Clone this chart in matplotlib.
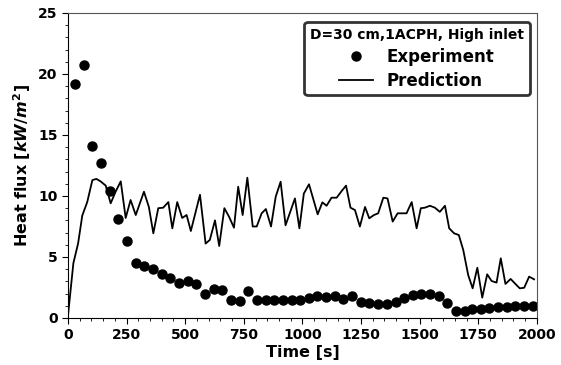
import matplotlib
matplotlib.use("Agg")
import matplotlib.pyplot as plt
from matplotlib.ticker import MultipleLocator

plt.rcParams['font.family'] = ['DejaVu Sans']
plt.rcParams['font.weight'] = 'bold'
plt.rcParams['mathtext.fontset'] = 'custom'
plt.rcParams['mathtext.it'] = 'DejaVu Sans:italic:bold'
plt.rcParams['mathtext.rm'] = 'DejaVu Sans:bold'

# Experiment data
exp_time = [30, 67, 104, 141, 178, 215, 252, 289, 326, 363, 400, 436, 473, 510,
            547, 584, 621, 658, 695, 732, 769, 806, 843, 880, 917, 954, 990, 1027,
            1064, 1101, 1138, 1175, 1212, 1249, 1286, 1323, 1360, 1397, 1434, 1470,
            1507, 1544, 1581, 1618, 1655, 1692, 1723, 1760, 1797, 1834, 1871, 1907,
            1945, 1982]
exp_flux = [19.2, 20.7, 14.1, 12.7, 10.4, 8.1, 6.3, 4.5, 4.3, 4.0, 3.6, 3.25, 2.85, 3.0,
            2.8, 2.0, 2.35, 2.3, 1.5, 1.4, 2.2, 1.5, 1.45, 1.45, 1.5, 1.45, 1.45, 1.67,
            1.8, 1.75, 1.8, 1.53, 1.8, 1.34, 1.26, 1.12, 1.12, 1.28, 1.61, 1.88,
            1.97, 1.97, 1.83, 1.2, 0.57, 0.6, 0.71, 0.74, 0.79, 0.87, 0.93, 0.98,
            0.98, 1.01]

# Prediction data
pred_time = [0, 23, 43, 61, 82, 104, 121, 139, 161, 182, 203, 225, 246, 267, 289,
             324, 345, 364, 385, 406, 428, 445, 466, 487, 506, 524, 563, 587, 605,
             627, 645, 667, 687, 708, 726, 745, 765, 788, 805, 826, 844, 866, 886,
             907, 928, 968, 987, 1006, 1028, 1065, 1085, 1103, 1124, 1146, 1167,
             1186, 1205, 1224, 1245, 1267, 1285, 1305, 1323, 1345, 1363, 1385, 1406,
             1426, 1444, 1466, 1487, 1505, 1522, 1544, 1565, 1586, 1608, 1626, 1647,
             1667, 1686, 1707, 1726, 1746, 1767, 1788, 1807, 1828, 1846, 1866, 1888,
             1906, 1927, 1946, 1967, 1988]
pred_flux = [0.2, 4.5, 6.1, 8.4, 9.5, 11.3, 11.4, 11.2, 10.85, 9.4, 10.35, 11.2, 8.2, 9.67, 8.44,
             10.35, 9.1, 6.94, 9.0, 9.04, 9.5, 7.35, 9.5, 8.2, 8.44, 7.13, 10.1, 6.1, 6.4,
             8.0, 5.9, 9.0, 8.3, 7.4, 10.76, 8.44, 11.5, 7.5, 7.5, 8.58, 8.93, 7.5, 9.94,
             11.17, 7.6, 9.8, 7.35, 10.2, 10.96, 8.5, 9.48, 9.2, 9.86, 9.86, 10.4,
             10.85, 9.04, 8.85, 7.5, 9.1, 8.17, 8.44, 8.58, 9.86, 9.8, 7.9, 8.58,
             8.58, 8.58, 9.5, 7.35, 9.0, 9.04, 9.2, 9.04, 8.7, 9.2, 7.35, 6.94,
             6.8, 5.57, 3.52, 2.43, 4.12, 1.67, 3.58, 3.03, 2.9, 4.89, 2.79, 3.2,
             2.84, 2.43, 2.48, 3.39, 3.17]

fig = plt.figure(figsize=(5.61, 3.65), dpi=100)
ax = fig.add_axes([0.1212, 0.1288, 0.8358, 0.8356])

ax.plot(exp_time, exp_flux, 'o', color='black', markersize=6.5, label='Experiment')
ax.plot(pred_time, pred_flux, '-', color='black', linewidth=1.3, label='Prediction')

ax.set_xlim(0, 2000)
ax.set_ylim(0, 25)
ax.xaxis.set_major_locator(MultipleLocator(250))
ax.xaxis.set_minor_locator(MultipleLocator(50))
ax.yaxis.set_major_locator(MultipleLocator(5))
ax.yaxis.set_minor_locator(MultipleLocator(1))
ax.tick_params(axis='both', which='major', labelsize=10, length=4, direction='out')
ax.tick_params(axis='both', which='minor', length=2, direction='out')
for lab in ax.get_xticklabels() + ax.get_yticklabels():
    lab.set_fontweight('bold')

for s in ['top', 'right']:
    ax.spines[s].set_color('#555555')

ax.set_xlabel('Time [s]', fontsize=11.5, fontweight='bold', labelpad=2)
ax.set_ylabel(r'Heat flux [$kW/m^2$]', fontsize=11.5, fontweight='bold', labelpad=4)

leg = ax.legend(loc='upper right', title='D=30 cm,1ACPH, High inlet',
                title_fontproperties={'weight': 'bold', 'size': 10},
                prop={'weight': 'bold', 'size': 12}, fancybox=True, framealpha=1,
                borderpad=0.35, handlelength=2.0, handletextpad=0.85,
                labelspacing=0.35, borderaxespad=0,
                bbox_to_anchor=(0.985, 0.970))
leg.get_frame().set_edgecolor('#333333')
leg.get_frame().set_linewidth(2)

fig.savefig('out.png', dpi=100)
